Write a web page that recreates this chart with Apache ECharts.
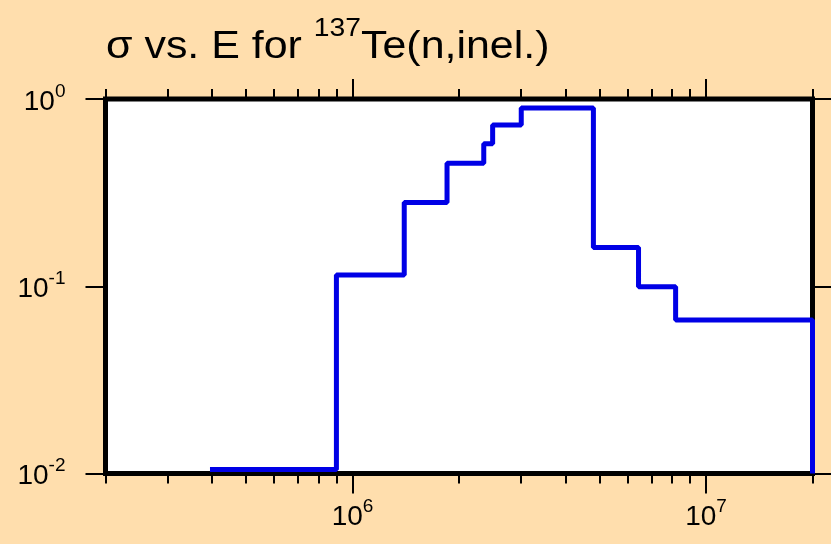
<!DOCTYPE html>
<html>
<head>
<meta charset="utf-8">
<script src="https://cdn.jsdelivr.net/npm/echarts@6/dist/echarts.min.js"></script>
<style>
html, body { margin: 0; padding: 0; background: #ffdead; }
#chart { width: 831px; height: 544px; }
</style>
</head>
<body>
<div id="chart"></div>
<script>
// Group-boundary energies (eV) and the cross section (b) held from each boundary to the next
const energy = [3.95e5, 9.0e5, 1.40e6, 1.85e6, 2.35e6, 2.49e6, 3.0e6, 4.8e6, 6.44e6, 8.2e6, 2.0e7];
const sigma  = [0.0105, 0.115, 0.280, 0.454, 0.577, 0.727, 0.895, 0.161, 0.0993, 0.066, 0.01];

const xRange = [2e5, 2e7];
const yRange = [0.01, 1];
const xMajorTicks = [1e6, 1e7];
const xMinorTicks = [2e5, 3e5, 4e5, 5e5, 6e5, 7e5, 8e5, 9e5,
                     2e6, 3e6, 4e6, 5e6, 6e6, 7e6, 8e6, 9e6, 2e7];
const yMajorTicks = [0.01, 0.1, 1];

const FONT = 'Liberation Sans, Arial, sans-serif';

function powerLabel(v) {
  const e = Math.round(Math.log10(v));
  return '{b|10}{s|' + e + '}';
}

const labelRich = {
  b: { fontSize: 28, fontFamily: FONT, color: '#000', lineHeight: 34, verticalAlign: 'bottom' },
  s: { fontSize: 19, fontFamily: FONT, color: '#000', lineHeight: 34, verticalAlign: 'top' }
};

function xAxisDef(position, ticks, len, labels) {
  return {
    type: 'log', logBase: 10, min: xRange[0], max: xRange[1],
    position: position, gridIndex: 0,
    axisLine: { show: false },
    splitLine: { show: false },
    minorTick: { show: false },
    axisTick: { show: true, customValues: ticks, length: len, lineStyle: { color: '#000', width: 2 } },
    axisLabel: labels
      ? { show: true, customValues: ticks, formatter: powerLabel, rich: labelRich, margin: 24 }
      : { show: false }
  };
}

function yAxisDef(position, labels) {
  return {
    type: 'log', logBase: 10, min: yRange[0], max: yRange[1],
    position: position, gridIndex: 0,
    axisLine: { show: false },
    splitLine: { show: false },
    minorTick: { show: false },
    axisTick: { show: true, customValues: yMajorTicks, length: 20, lineStyle: { color: '#000', width: 2 } },
    axisLabel: labels
      ? { show: true, customValues: yMajorTicks, formatter: powerLabel, rich: labelRich, margin: 40 }
      : { show: false }
  };
}

const chart = echarts.init(document.getElementById('chart'), null, { renderer: 'canvas' });

chart.setOption({
  backgroundColor: '#ffdead',
  animation: false,
  // Chart heading, drawn a little wide like the plotting program's lettering
  graphic: [{
    type: 'text',
    x: 106, y: 17,
    scaleX: 1.13,
    style: {
      text: '{a|σ vs. E for }{s|137}{a|Te(n,inel.)}',
      rich: {
        a: { fontSize: 38, fontFamily: FONT, fill: '#000', lineHeight: 50, verticalAlign: 'bottom' },
        s: { fontSize: 25, fontFamily: FONT, fill: '#000', lineHeight: 50, verticalAlign: 'top' }
      }
    }
  }],
  grid: {
    left: 105.5, right: 18.5, top: 99, bottom: 70.5,
    show: true, backgroundColor: '#ffffff', borderColor: '#000', borderWidth: 5
  },
  xAxis: [
    xAxisDef('bottom', xMajorTicks, 20, true),
    xAxisDef('top', xMajorTicks, 20, false),
    xAxisDef('bottom', xMinorTicks, 10, false),
    xAxisDef('top', xMinorTicks, 10, false)
  ],
  yAxis: [
    yAxisDef('left', true),
    yAxisDef('right', false)
  ],
  series: [{
    type: 'line',
    xAxisIndex: 0, yAxisIndex: 0,
    data: energy.map((e, i) => [e, sigma[i]]),
    step: 'end',
    showSymbol: false,
    clip: false,
    lineStyle: { color: '#0000e6', width: 5 },
    z: 3
  }]
});
</script>
</body>
</html>
